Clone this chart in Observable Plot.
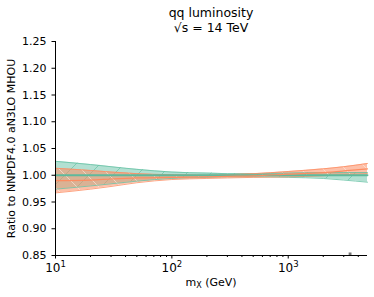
<!DOCTYPE html>
<html><head><meta charset="utf-8">
<script src="https://cdn.jsdelivr.net/npm/d3@7"></script>
<script src="https://cdn.jsdelivr.net/npm/@observablehq/plot@0.6"></script>
<style>
body{margin:0;background:#fff;font-family:"DejaVu Sans",sans-serif;}
</style></head><body><div id="chart"></div>
<script>
const mass =        [10,    20,    30,    50,    100,   200,   300,   500,   1000,  2000,  3000,  4800];
const greenUpper =  [1.026, 1.020, 1.016, 1.011, 1.006, 1.004, 1.003, 1.003, 1.004, 1.005, 1.005, 1.005];
const greenLower =  [0.974, 0.980, 0.984, 0.989, 0.994, 0.996, 0.997, 0.997, 0.996, 0.994, 0.991, 0.987];
const greenCentral =[1.000, 1.000, 1.000, 1.000, 1.000, 1.000, 1.000, 1.000, 1.000, 1.000, 1.000, 1.000];
const orangeUpper = [1.013, 1.009, 1.006, 1.003, 1.001, 1.000, 1.001, 1.003, 1.007, 1.012, 1.016, 1.022];
const orangeCentral=[0.990, 0.991, 0.993, 0.995, 0.996, 0.997, 0.998, 0.999, 1.002, 1.005, 1.008, 1.012];
const orangeLower = [0.967, 0.974, 0.979, 0.986, 0.992, 0.994, 0.995, 0.996, 0.997, 0.999, 1.001, 1.003];
const yTicks = [0.85,0.90,0.95,1.00,1.05,1.10,1.15,1.20,1.25];
const xMajor = [10,100,1000];
const xMajorExp = ["1","2","3"];
const markerPt = [{m:3400, r:0.853}];

const data = mass.map((m,i)=>({m, gu:greenUpper[i], gl:greenLower[i], gc:greenCentral[i], ou:orangeUpper[i], oc:orangeCentral[i], ol:orangeLower[i]}));
const xMinor = [];
for (const d of [10,100,1000]) for (let k=2;k<=9;k++){ if (d*k<=4800) xMinor.push(d*k); }

const G = "#66c2a5", O = "#fc8d62";
const plot = Plot.plot({
  width: 374, height: 297,
  marginLeft: 55, marginRight: 7, marginTop: 41, marginBottom: 42,
  style: {fontFamily: "DejaVu Sans", fontSize: "10px", color: "#000", background: "#fff"},
  x: {type: "log", domain: [10, 4800]},
  y: {domain: [0.85, 1.25]},
  marks: [
    Plot.areaY(data, {x:"m", y1:"gl", y2:"gu", fill:G, fillOpacity:0.5, curve:"monotone-x"}),
    Plot.areaY(data, {x:"m", y1:"gl", y2:"gu", fill:"url(#hatchG)", curve:"monotone-x"}),
    Plot.areaY(data, {x:"m", y1:"ol", y2:"ou", fill:O, fillOpacity:0.55, curve:"monotone-x"}),
    Plot.areaY(data, {x:"m", y1:"ol", y2:"ou", fill:"url(#hatchO)", curve:"monotone-x"}),
    Plot.lineY(data, {x:"m", y:"gu", stroke:G, strokeWidth:0.8, curve:"monotone-x"}),
    Plot.lineY(data, {x:"m", y:"gl", stroke:G, strokeWidth:0.8, curve:"monotone-x"}),
    Plot.lineY(data, {x:"m", y:"ou", stroke:O, strokeWidth:0.8, curve:"monotone-x"}),
    Plot.lineY(data, {x:"m", y:"ol", stroke:O, strokeWidth:0.8, curve:"monotone-x"}),
    Plot.lineY(data, {x:"m", y:"gc", stroke:"#5fb99c", strokeWidth:1.8, curve:"monotone-x"}),
    Plot.lineY(data, {x:"m", y:"oc", stroke:O, strokeWidth:1.2, curve:"monotone-x"}),
    Plot.dot(markerPt, {x:"m", y:"r", symbol:"square", r:1.6, fill:"#777"}),
    Plot.axisY({ticks: yTicks, tickFormat: d3.format(".2f"), tickSize: 3.5, label: "Ratio to NNPDF4.0 aN3LO MHOU", labelAnchor:"center", labelArrow:"none", labelOffset: 48, fontSize: 11}),
    Plot.axisX({ticks: xMajor, tickFormat: d => String(d), tickSize: 3.5, tickPadding: 4, label: null, fontSize: 12}),
    Plot.axisX({ticks: xMinor, tickFormat: ()=>"", tickSize: 2, label: null}),
    Plot.ruleY([0.85]),
    Plot.ruleX([10]),
  ]
});
const svg = plot;
const ns = "http://www.w3.org/2000/svg";
// superscript tick labels 10^n
svg.querySelectorAll('[aria-label="x-axis tick label"] text').forEach(t => {
  const v = +t.textContent;
  const i = xMajor.indexOf(v);
  if (i >= 0) t.innerHTML = `10<tspan font-size="8.5" dy="-5">${xMajorExp[i]}</tspan>`;
});
const defs = document.createElementNS(ns,"defs");
defs.innerHTML = `
<pattern id="hatchG" patternUnits="userSpaceOnUse" width="24" height="24">
  <path d="M0,24 L24,0" stroke="${G}" stroke-width="0.7" fill="none"/>
</pattern>
<pattern id="hatchO" patternUnits="userSpaceOnUse" width="22" height="22">
  <path d="M0,0 L22,22" stroke="#fff0e8" stroke-width="0.7" fill="none" opacity="0.8"/>
</pattern>`;
svg.insertBefore(defs, svg.firstChild);
const t1 = document.createElementNS(ns,"text");
t1.setAttribute("x", 211); t1.setAttribute("y", 17); t1.setAttribute("text-anchor","middle");
t1.setAttribute("font-size","12.5"); t1.textContent = "qq luminosity";
const t2 = document.createElementNS(ns,"text");
t2.setAttribute("x", 211); t2.setAttribute("y", 32); t2.setAttribute("text-anchor","middle");
t2.setAttribute("font-size","12.5"); t2.textContent = "\u221As = 14 TeV";
const t3 = document.createElementNS(ns,"text");
t3.setAttribute("x", 211); t3.setAttribute("y", 286); t3.setAttribute("text-anchor","middle");
t3.setAttribute("font-size","11");
t3.innerHTML = 'm<tspan font-size="8" dy="2">X</tspan><tspan dy="-2"> (GeV)</tspan>';
svg.append(t1,t2,t3);
document.getElementById("chart").append(svg);
</script></body></html>
